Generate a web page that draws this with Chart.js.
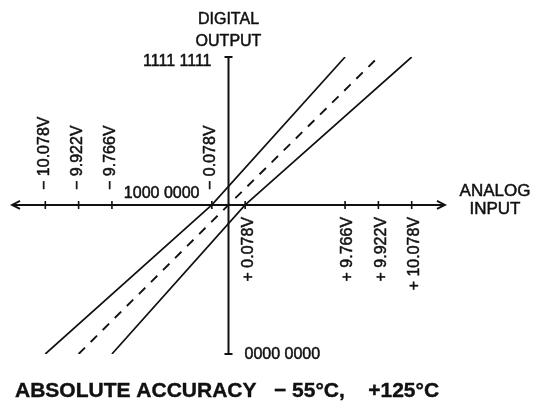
<!DOCTYPE html>
<html>
<head>
<meta charset="utf-8">
<script src="https://cdn.jsdelivr.net/npm/chart.js@4"></script>
<style>
  html, body { margin: 0; padding: 0; background: #fff; }
  canvas { display: block; }
</style>
</head>
<body>
<canvas id="c" width="544" height="406"></canvas>
<script>
// ---- data (schematic, broken analog axis) ----
// analog-input tick positions on the schematic axis and their labels
const xTickPos    = [-5.5, -4.5, -3.5, -0.5, 0.5, 3.5, 4.5, 5.5];
const xTickLabels = ['\u2212 10.078V', '\u2212 9.922V', '\u2212 9.766V', '\u2212 0.078V',
                     '+ 0.078V', '+ 9.766V', '+ 9.922V', '+ 10.078V'];
// digital output codes and their labels
const yCodes  = [0, 128, 255];
const yLabels = ['0000 0000', '1000 0000', '1111 1111'];
// transfer lines: x positions at codes 0, 128, 255
const upperLimitX = [-5.5, -0.5, 3.5];
const idealX      = [-4.5,  0.0, 4.5];
const lowerLimitX = [-3.5,  0.5, 5.5];
const xRange = [-6.5, 6.5];

const titleText = 'ABSOLUTE ACCURACY   \u2212 55\u00B0C,    +125\u00B0C';

const FONT = '"Liberation Sans", Arial, Helvetica, sans-serif';
const INK = '#111';

function pts(xs) { return xs.map((x, i) => ({ x: x, y: yCodes[i] })); }

function heavyText(ctx, s, x, y, w) {
  ctx.fillText(s, x, y);
  ctx.lineWidth = w;
  ctx.strokeText(s, x, y);
}

const axesPlugin = {
  id: 'schematicAxes',
  beforeDatasetsDraw(chart) {
    const ctx = chart.ctx, xs = chart.scales.x, ys = chart.scales.y;
    const ax = xs.getPixelForValue(0);
    const ay = ys.getPixelForValue(yCodes[1]);
    const yTop = ys.getPixelForValue(yCodes[2]);
    const yBot = ys.getPixelForValue(yCodes[0]);
    const xL = xs.getPixelForValue(xRange[0]);
    const xR = xs.getPixelForValue(xRange[1]);
    ctx.save();
    ctx.strokeStyle = INK;
    ctx.lineWidth = 2;
    ctx.lineCap = 'butt';
    // horizontal axis
    ctx.beginPath(); ctx.moveTo(xL, ay); ctx.lineTo(xR, ay); ctx.stroke();
    // arrowheads
    ctx.lineWidth = 1.8;
    ctx.beginPath();
    ctx.moveTo(xL + 8, ay - 4); ctx.lineTo(xL, ay); ctx.lineTo(xL + 8, ay + 4);
    ctx.moveTo(xR - 8, ay - 4); ctx.lineTo(xR, ay); ctx.lineTo(xR - 8, ay + 4);
    ctx.stroke();
    // x tick marks
    ctx.lineWidth = 1.6;
    ctx.beginPath();
    xTickPos.forEach(v => {
      const px = xs.getPixelForValue(v);
      ctx.moveTo(px, ay - 4); ctx.lineTo(px, ay + 4);
    });
    ctx.stroke();
    // vertical axis
    ctx.lineWidth = 2;
    ctx.beginPath(); ctx.moveTo(ax, yTop); ctx.lineTo(ax, yBot); ctx.stroke();
    ctx.beginPath();
    ctx.moveTo(ax - 4, yTop); ctx.lineTo(ax + 4, yTop);
    ctx.moveTo(ax - 4, yBot); ctx.lineTo(ax + 4, yBot);
    ctx.stroke();
    ctx.restore();
  },
  afterDraw(chart) {
    const ctx = chart.ctx, xs = chart.scales.x, ys = chart.scales.y;
    const ax = xs.getPixelForValue(0);
    const ay = ys.getPixelForValue(yCodes[1]);
    const yTop = ys.getPixelForValue(yCodes[2]);
    const yBot = ys.getPixelForValue(yCodes[0]);
    ctx.save();
    ctx.fillStyle = INK;
    ctx.strokeStyle = INK;
    ctx.lineJoin = 'round';
    ctx.font = '16px ' + FONT;
    // rotated analog tick labels
    xTickPos.forEach((v, i) => {
      const px = xs.getPixelForValue(v);
      ctx.save();
      if (v < 0) {
        ctx.translate(px - 1, ay - 15);
        ctx.rotate(-Math.PI / 2);
        ctx.textAlign = 'left';
      } else {
        ctx.translate(px + 3, ay + 12);
        ctx.rotate(-Math.PI / 2);
        ctx.textAlign = 'right';
      }
      ctx.textBaseline = 'middle';
      heavyText(ctx, xTickLabels[i], 0, 0, 0.5);
      ctx.restore();
    });
    // digital code labels
    ctx.textBaseline = 'alphabetic';
    ctx.textAlign = 'right';
    heavyText(ctx, yLabels[2], ax - 17, yTop + 9, 0.5);
    heavyText(ctx, yLabels[1], ax - 29, ay - 7, 0.5);
    ctx.textAlign = 'left';
    heavyText(ctx, yLabels[0], ax + 16, yBot + 5, 0.5);
    // axis titles
    ctx.textAlign = 'center';
    heavyText(ctx, 'DIGITAL', ax, yTop - 33, 0.5);
    heavyText(ctx, 'OUTPUT', ax, yTop - 11, 0.5);
    ctx.font = '17px ' + FONT;
    const rx = xs.getPixelForValue(xRange[1]) + 50;
    heavyText(ctx, 'ANALOG', rx, ay - 9, 0.5);
    heavyText(ctx, 'INPUT', rx, ay + 9, 0.5);
    // caption
    ctx.textAlign = 'left';
    ctx.font = 'bold 21px ' + FONT;
    heavyText(ctx, titleText, 15, yBot + 43, 0.4);
    ctx.restore();
  }
};

new Chart(document.getElementById('c'), {
  type: 'scatter',
  data: {
    datasets: [
      { data: pts(upperLimitX), showLine: true, borderColor: INK, borderWidth: 1.7,
        pointRadius: 0, tension: 0 },
      { data: pts(idealX), showLine: true, borderColor: INK, borderWidth: 1.9,
        borderDash: [9, 8], pointRadius: 0, tension: 0 },
      { data: pts(lowerLimitX), showLine: true, borderColor: INK, borderWidth: 1.7,
        pointRadius: 0, tension: 0 }
    ]
  },
  options: {
    responsive: false,
    devicePixelRatio: 1,
    animation: false,
    layout: { padding: { left: 12, right: 99, top: 57, bottom: 52 } },
    plugins: { legend: { display: false }, tooltip: { enabled: false }, title: { display: false } },
    scales: {
      x: { type: 'linear', display: false, min: xRange[0], max: xRange[1] },
      y: { type: 'linear', display: false, min: yCodes[0], max: yCodes[2] }
    },
    elements: { line: { borderCapStyle: 'butt' } }
  },
  plugins: [axesPlugin]
});
</script>
</body>
</html>
